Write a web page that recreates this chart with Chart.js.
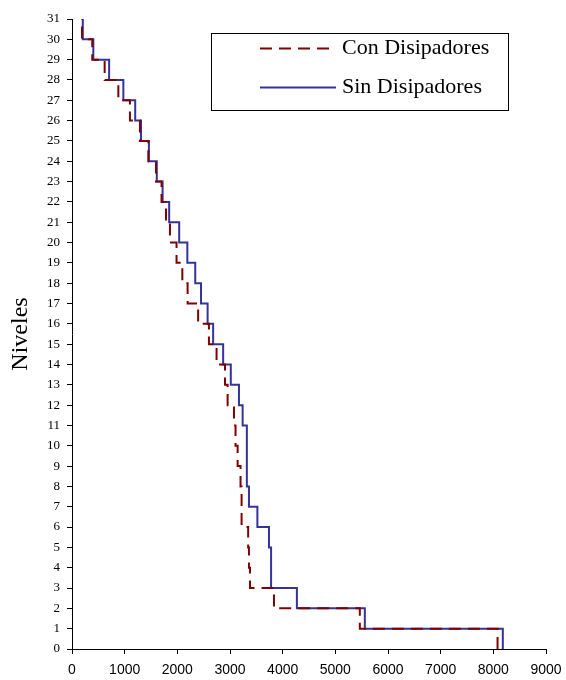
<!DOCTYPE html>
<html><head><meta charset="utf-8">
<script src="https://cdn.jsdelivr.net/npm/chart.js@4/dist/chart.umd.min.js"></script>
<style>html,body{margin:0;padding:0;background:#fff}#wrap{width:566px;height:680px;position:relative}</style>
</head><body><div id="wrap"><canvas id="c" width="566" height="680"></canvas></div>
<script>
// Story levels 1..31 (value holds between level-1 and level)
const niveles = [1,2,3,4,5,6,7,8,9,10,11,12,13,14,15,16,17,18,19,20,21,22,23,24,25,26,27,28,29,30,31];
const conDisipadores = [8080,5465,3835,3380,3360,3345,3220,3220,3200,3145,3105,3075,2955,2905,2745,2600,2395,2195,2095,1985,1860,1785,1700,1595,1450,1290,1100,880,620,385,190];
const sinDisipadores = [8180,5560,4270,3780,3780,3740,3520,3360,3320,3320,3320,3240,3170,3015,2870,2680,2575,2450,2340,2190,2035,1845,1720,1610,1460,1310,1200,975,705,405,205];
const seriesLabels = ['Con Disipadores','Sin Disipadores'];
const xMin = 0, xMax = 9000, xStep = 1000;
const yMin = 0, yMax = 31, yStep = 1;

function stepPoints(vals){
  const pts = [{x: vals[0], y: 0}];
  vals.forEach((v,i) => pts.push({x: v, y: niveles[i]}));
  return pts;
}

const boxLegend = {
  id: 'boxLegend',
  afterDraw(chart){
    const ctx = chart.ctx, a = chart.chartArea;
    const x0 = a.left + 139.5, y0 = a.top + 14.5, w = 297, h = 77;
    ctx.save();
    ctx.fillStyle = '#fff'; ctx.fillRect(x0, y0, w, h);
    ctx.strokeStyle = '#000'; ctx.lineWidth = 1; ctx.strokeRect(x0, y0, w, h);
    const rows = [y0 + 15, y0 + 54];
    chart.data.datasets.forEach((ds, i) => {
      const y = rows[i];
      ctx.beginPath();
      ctx.setLineDash(ds.borderDash || []);
      ctx.strokeStyle = ds.borderColor; ctx.lineWidth = ds.borderWidth;
      ctx.moveTo(x0 + 48.5, y); ctx.lineTo(x0 + 124.5, y); ctx.stroke();
      ctx.setLineDash([]);
      ctx.fillStyle = '#000';
      ctx.font = '22px "Liberation Serif", "Times New Roman", serif';
      ctx.textBaseline = 'middle'; ctx.textAlign = 'left';
      ctx.fillText(ds.label, x0 + 130.5, y);
    });
    ctx.restore();
  }
};

new Chart(document.getElementById('c'), {
  type: 'scatter',
  data: {
    datasets: [
      { label: seriesLabels[0], data: stepPoints(conDisipadores), showLine: true, stepped: 'before',
        borderColor: '#800000', borderWidth: 2, borderDash: [12,7], pointRadius: 0, fill: false },
      { label: seriesLabels[1], data: stepPoints(sinDisipadores), showLine: true, stepped: 'before',
        borderColor: '#33339a', borderWidth: 2, pointRadius: 0, fill: false }
    ]
  },
  options: {
    responsive: false, animation: false,
    layout: { padding: { top: 19, right: 20, left: 0, bottom: 0 } },
    plugins: { legend: { display: false }, tooltip: { enabled: false } },
    scales: {
      x: {
        type: 'linear', min: xMin, max: xMax,
        afterFit(s){ s.height = 31; },
        ticks: { stepSize: xStep, color: '#000', padding: 2,
          callback: (v) => String(v),
          font: { family: '"Liberation Sans", Arial, sans-serif', size: 14, lineHeight: 1.95 } },
        grid: { display: true, drawOnChartArea: false, drawTicks: true, tickLength: 5, color: '#000' },
        border: { display: true, color: '#000', width: 1 }
      },
      y: {
        type: 'linear', min: yMin, max: yMax,
        afterFit(s){ s.width = 72; },
        ticks: { stepSize: yStep, color: '#000', padding: 7, autoSkip: false,
          callback: (v) => String(v),
          font: { family: '"Liberation Serif", "Times New Roman", serif', size: 13 } },
        grid: { display: true, drawOnChartArea: false, drawTicks: true, tickLength: 5, color: '#000' },
        border: { display: true, color: '#000', width: 1 },
        title: { display: true, text: 'Niveles', color: '#000', padding: { top: 6, bottom: 0 },
          font: { family: '"Liberation Serif", "Times New Roman", serif', size: 24 } }
      }
    }
  },
  plugins: [boxLegend]
});
</script></body></html>
